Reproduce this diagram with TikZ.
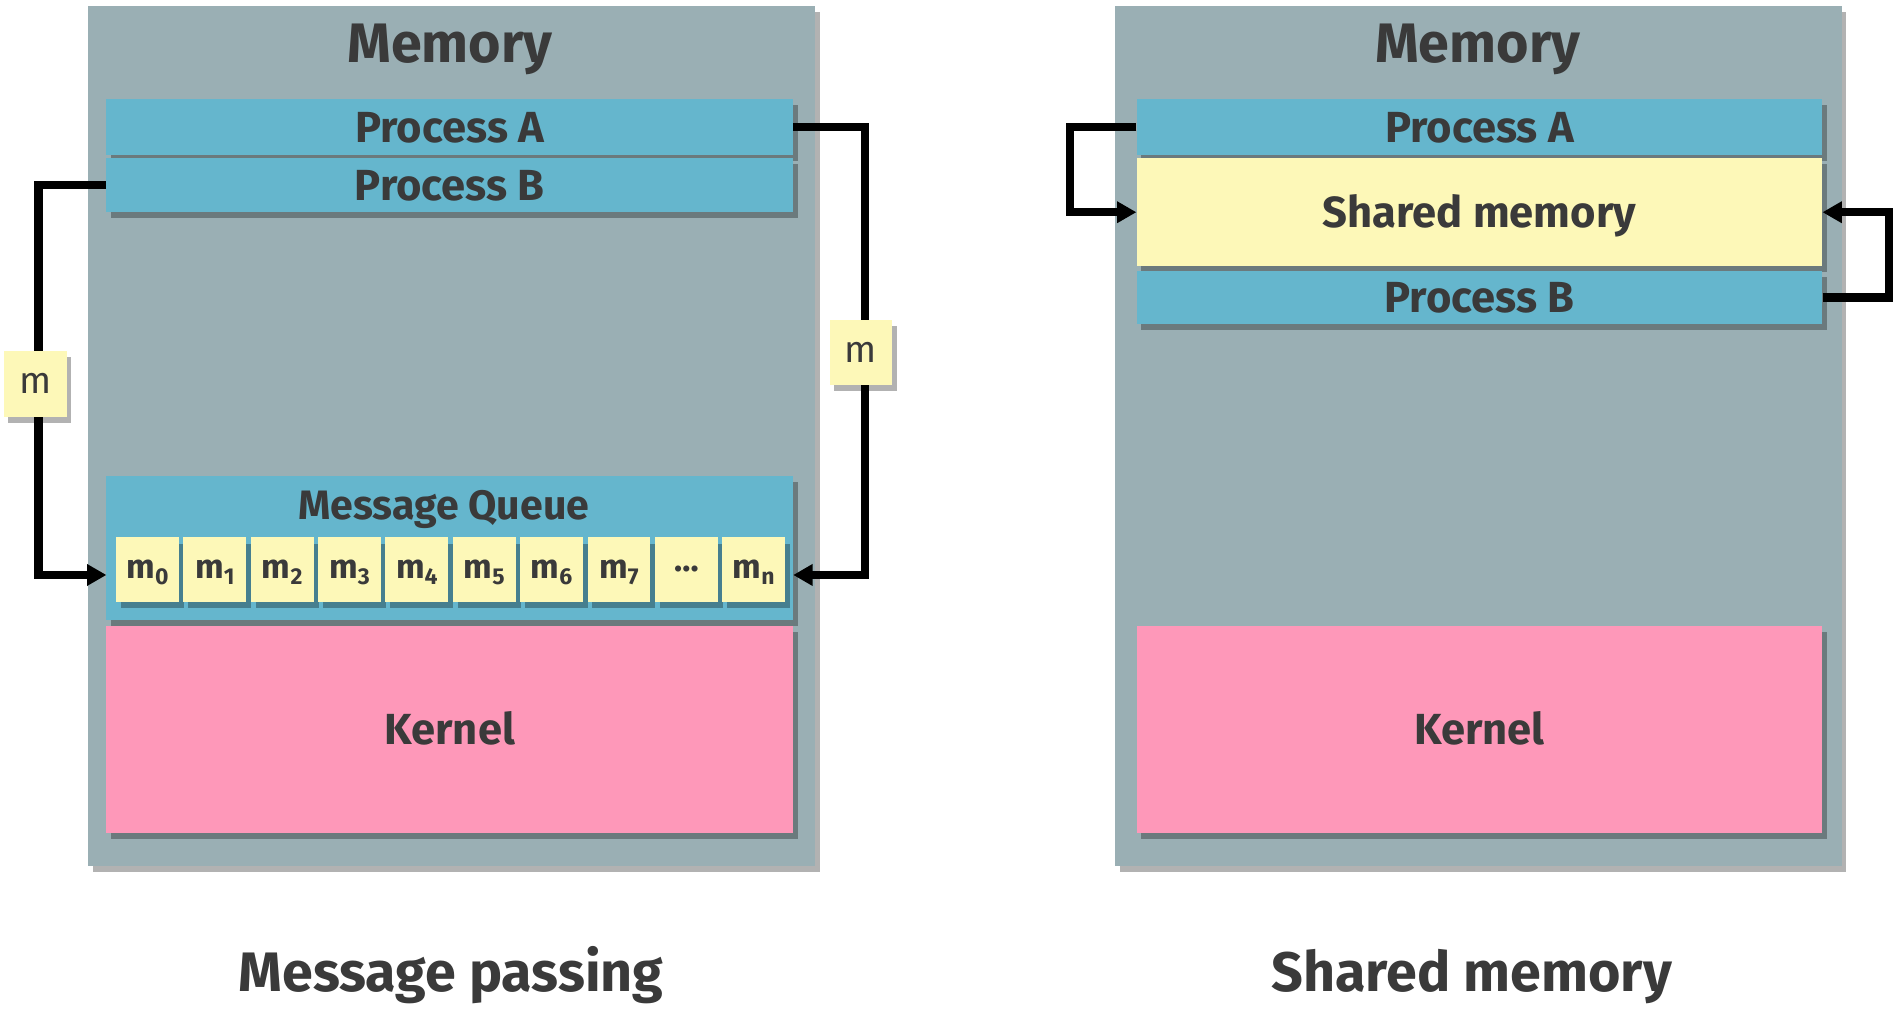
\documentclass[tikz,border=0pt]{standalone}
\usepackage{fontspec}
\setmainfont{Fira Sans}
\usetikzlibrary{arrows.meta,shadows}

\definecolor{memgray}{HTML}{9AAFB4}
\definecolor{procblue}{HTML}{65B6CD}
\definecolor{msgyellow}{HTML}{FDF8B8}
\definecolor{kernpink}{HTML}{FE98B9}
\definecolor{txtgray}{HTML}{3A3A3A}

\newcommand{\msub}[1]{m\raisebox{-5pt}{\fontsize{19}{19}\selectfont #1}}

\begin{document}
\begin{tikzpicture}[x=1pt,y=-1pt,
	box/.style={inner sep=0pt, text=txtgray, text height=25pt, text depth=0pt,
		font=\bfseries\fontsize{36}{40}\selectfont,
		drop shadow={shadow xshift=4pt, shadow yshift=-5pt, opacity=0.3, fill=black}},
	memory/.style={box, fill=memgray, minimum width=601pt, minimum height=711pt},
	proc/.style={box, fill=procblue, minimum width=568pt},
	kern/.style={box, fill=kernpink, minimum width=568pt, minimum height=171pt},
	cell/.style={box, fill=msgyellow, minimum width=52pt, minimum height=53pt,
		text height=15pt, font=\bfseries\fontsize{28}{30}\selectfont},
	msg/.style={cell, minimum height=54pt, text height=16pt, font=\fontsize{31}{33}\selectfont},
	title/.style={anchor=base, text=txtgray, font=\bfseries\fontsize{46}{50}\selectfont},
	flow/.style={line width=7pt, -{Triangle[length=16pt,width=17pt]}},
]
	\useasboundingbox (0,0) rectangle (1568,855);

	% Message passing
	\node[memory] (memL) at (373.5,360.5) {};
	\node[title] (memLtitle) at (372,52) {Memory};
	\node[proc, minimum height=46pt] (procAL) at (372,105) {Process A};
	\node[proc, minimum height=44pt] (procBL) at (372,153) {Process B};
	\node[proc, minimum height=119pt] (queue) at (372,453.5) {};
	\node[anchor=base, text=txtgray, font=\bfseries\fontsize{34}{38}\selectfont] (queuetitle) at (367,430) {Message Queue};
	\foreach \i/\lbl in {0/\msub{0},1/\msub{1},2/\msub{2},3/\msub{3},4/\msub{4},5/\msub{5},6/\msub{6},7/\msub{7},8/{\raisebox{6pt}{…}},9/\msub{n}}
		\node[cell] (c\i) at (122+55.7*\i,471) {\lbl};
	\node[kern] (kernL) at (372,603.5) {Kernel};
	\node[title] (capL) at (373,820) {Message passing};

	\coordinate (inL) at (88,475.5);
	\coordinate (inR) at (656,475.5);
	\draw[flow] (procBL.west) -- ++(-56,0) |- (inL);
	\draw[flow] (procAL.east) -- ++(59,0) |- (inR);

	\node[msg] (mL) at (29,317.5) {m}; %left message
	\node[msg] (mR) at (712,291.5) {m}; %right message

	% Shared memory
	\node[memory] (memR) at (1222.5,360.5) {};
	\node[title] (memRtitle) at (1222,52) {Memory};
	\node[proc, minimum width=567pt, minimum height=46pt] (procAR) at (1223.5,105) {Process A};
	\node[box, fill=msgyellow, minimum width=567pt, minimum height=89pt] (shared) at (1223.5,175.5) {Shared memory};
	\node[proc, minimum width=567pt, minimum height=44pt] (procBR) at (1223.5,246) {Process B};
	\node[kern, minimum width=567pt] (kernR) at (1223.5,603.5) {Kernel};
	\node[title] (capR) at (1217,820) {Shared memory};

	\draw[flow] (procAR.west) -- ++(-55,0) |- (shared.west);
	\draw[flow] (procBR.east) -- ++(55,0) |- (shared.east);

\end{tikzpicture}
\end{document}
